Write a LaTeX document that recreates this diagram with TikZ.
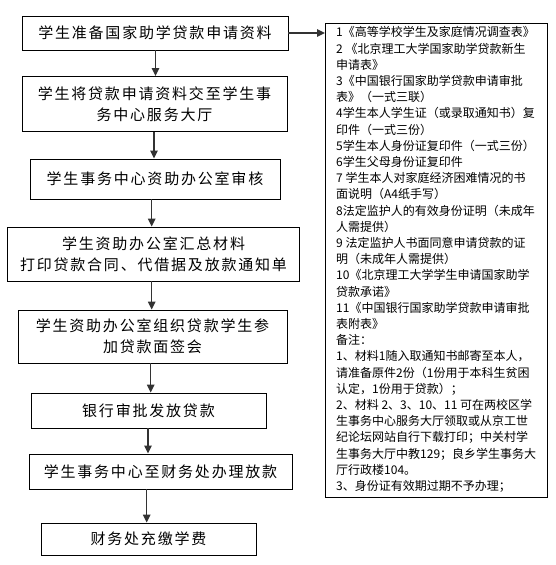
\documentclass[tikz,border=0pt]{standalone}
\usepackage{fontspec}
\setmainfont{Noto Sans CJK SC}
\newfontfamily\boxfont[LetterSpace=12]{Noto Sans CJK SC}
\newfontfamily\notefont{Noto Sans CJK SC}
\usetikzlibrary{arrows.meta}
\begin{document}
\begin{tikzpicture}[x=1pt,y=-1pt,
  stepbox/.style={draw=black, line width=0.9pt, inner sep=0pt, align=center,
    font=\boxfont\fontsize{15}{21}\selectfont},
  arr/.style={draw=black!80, line width=1.3pt, -{Triangle[length=8pt,width=7.5pt]}},
]
\useasboundingbox (0,0) rectangle (555,565);
\fill[white] (0,0) rectangle (555,565);

\node[stepbox, minimum width=266pt, minimum height=34pt] (b1) at (155,33) {学生准备国家助学贷款申请资料};
\node[stepbox, minimum width=265pt, minimum height=55pt] (b2) at (154.5,104) {学生将贷款申请资料交至学生事\\务中心服务大厅};
\node[stepbox, minimum width=250pt, minimum height=40pt] (b3) at (155,179) {学生事务中心资助办公室审核};
\node[stepbox, minimum width=292pt, minimum height=54pt] (b4) at (153.5,254) {学生资助办公室汇总材料\\打印贷款合同、代借据及放款通知单};
\node[stepbox, minimum width=269pt, minimum height=53pt] (b5) at (152.5,336.5) {学生资助办公室组织贷款学生参\\加贷款面签会};
\node[stepbox, minimum width=235pt, minimum height=35pt] (b6) at (148.5,410.5) {银行审批发放贷款};
\node[stepbox, minimum width=263pt, minimum height=35pt] (b7) at (160.5,471.5) {学生事务中心至财务处办理放款};
\node[stepbox, minimum width=215pt, minimum height=32pt] (b8) at (148.5,539) {财务处充缴学费};

\node[draw=black, line width=0.9pt, minimum width=222pt, minimum height=474pt, inner sep=0pt, anchor=north west] (notes) at (325,23) {};
\node[anchor=north west, inner sep=0pt, align=left, font=\notefont\fontsize{12}{16.2}\selectfont] (notetext) at (336,26.5) {%
1《高等学校学生及家庭情况调查表》\\
2 《北京理工大学国家助学贷款新生\\
申请表》\\
3《中国银行国家助学贷款申请审批\\
表》（一式三联）\\
4学生本人学生证（或录取通知书）复\\
印件（一式三份）\\
5学生本人身份证复印件（一式三份）\\
6学生父母身份证复印件\\
7 学生本人对家庭经济困难情况的书\\
面说明（A4纸手写）\\
8法定监护人的有效身份证明（未成年\\
人需提供）\\
9 法定监护人书面同意申请贷款的证\\
明（未成年人需提供）\\
10《北京理工大学学生申请国家助学\\
贷款承诺》\\
11《中国银行国家助学贷款申请审批\\
表附表》\\
备注：\\
1、材料1随入取通知书邮寄至本人，\\
请准备原件2份（1份用于本科生贫困\\
认定，1份用于贷款）；\\
2、材料 2、3、10、11 可在两校区学\\
生事务中心服务大厅领取或从京工世\\
纪论坛网站自行下载打印；中关村学\\
生事务大厅中教129；良乡学生事务大\\
厅行政楼104。\\
3、身份证有效期过期不予办理；};

\coordinate (x1) at (155.5,0);
\coordinate (x2) at (154,0);
\coordinate (x3) at (151.7,0);
\coordinate (x4) at (151.7,0);
\coordinate (x5) at (150.7,0);
\coordinate (x6) at (148,0);
\coordinate (x7) at (146.7,0);

\draw[arr] (b1.south -| x1) -- (b2.north -| x1);
\draw[arr] (b2.south -| x2) -- (b3.north -| x2);
\draw[arr] (b3.south -| x3) -- (b4.north -| x3);
\draw[arr] (b4.south -| x4) -- (b5.north -| x4);
\draw[arr] (b5.south -| x5) -- (b6.north -| x5);
\draw[arr] (b6.south -| x6) -- (b7.north -| x6);
\draw[arr] (b7.south -| x7) -- (b8.north -| x7);
\draw[arr] (b1.east) -- (b1.east -| notes.west);
\end{tikzpicture}
\end{document}
